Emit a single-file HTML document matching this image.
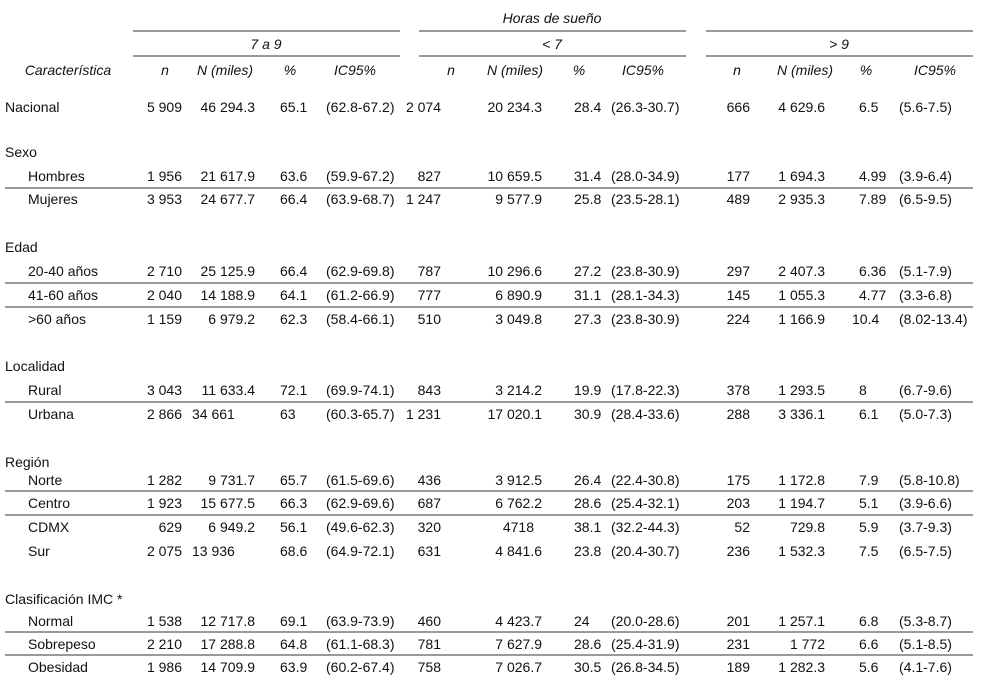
<!DOCTYPE html>
<html><head><meta charset="utf-8">
<style>
html,body{margin:0;padding:0;background:#fff;}
body{width:989px;height:688px;position:relative;overflow:hidden;font-family:"Liberation Sans",sans-serif;font-size:14px;color:#111;}
.row{position:absolute;left:0;width:989px;height:16px;line-height:16px;}
.row span{position:absolute;top:0;white-space:nowrap;}
.g{left:5px}.s{left:28px}
.c1{left:82px;width:100px;text-align:right}
.c2{left:155px;width:100px;text-align:right}
.c3{left:280px}.c4{left:326px}
.c5{left:341px;width:100px;text-align:right}
.c6{left:442px;width:100px;text-align:right}
.c7{left:574px}.c8{left:611px}
.c9{left:650px;width:100px;text-align:right}
.c10{left:725px;width:100px;text-align:right}
.c11{left:859px}.c12{left:899px}
.i{font-style:italic}
.h span{transform:translateX(-50%)}
.ln{position:absolute;height:2px;background:#9a9a9a;}
</style></head><body>
<div class="row h i" style="top:10px"><span style="left:552px">Horas de sueño</span></div>
<div class="ln" style="top:30px;left:133px;width:267px"></div>
<div class="ln" style="top:30px;left:419px;width:267px"></div>
<div class="ln" style="top:30px;left:706px;width:267px"></div>
<div class="row h i" style="top:36px"><span style="left:266px">7 a 9</span><span style="left:552px">&lt; 7</span><span style="left:839px">&gt; 9</span></div>
<div class="ln" style="top:55px;left:133px;width:267px"></div>
<div class="ln" style="top:55px;left:419px;width:267px"></div>
<div class="ln" style="top:55px;left:706px;width:267px"></div>
<div class="row h i" style="top:62px"><span style="left:68px">Característica</span><span style="left:165px">n</span><span style="left:225px">N (miles)</span><span style="left:290px">%</span><span style="left:355px">IC95%</span><span style="left:451px">n</span><span style="left:515px">N (miles)</span><span style="left:579px">%</span><span style="left:643px">IC95%</span><span style="left:737px">n</span><span style="left:805px">N (miles)</span><span style="left:866px">%</span><span style="left:935px">IC95%</span></div>

<div class="row" style="top:99px"><span class="g">Nacional</span><span class="c1">5 909</span><span class="c2">46 294.3</span><span class="c3">65.1</span><span class="c4">(62.8-67.2)</span><span class="c5">2 074</span><span class="c6">20 234.3</span><span class="c7">28.4</span><span class="c8">(26.3-30.7)</span><span class="c9">666</span><span class="c10">4 629.6</span><span class="c11">6.5</span><span class="c12">(5.6-7.5)</span></div>

<div class="row" style="top:144px"><span class="g">Sexo</span></div>
<div class="row" style="top:168px"><span class="s">Hombres</span><span class="c1">1 956</span><span class="c2">21 617.9</span><span class="c3">63.6</span><span class="c4">(59.9-67.2)</span><span class="c5">827</span><span class="c6">10 659.5</span><span class="c7">31.4</span><span class="c8">(28.0-34.9)</span><span class="c9">177</span><span class="c10">1 694.3</span><span class="c11">4.99</span><span class="c12">(3.9-6.4)</span></div>
<div class="ln" style="top:187px;left:5px;width:968px"></div>
<div class="row" style="top:191px"><span class="s">Mujeres</span><span class="c1">3 953</span><span class="c2">24 677.7</span><span class="c3">66.4</span><span class="c4">(63.9-68.7)</span><span class="c5">1 247</span><span class="c6">9 577.9</span><span class="c7">25.8</span><span class="c8">(23.5-28.1)</span><span class="c9">489</span><span class="c10">2 935.3</span><span class="c11">7.89</span><span class="c12">(6.5-9.5)</span></div>

<div class="row" style="top:239px"><span class="g">Edad</span></div>
<div class="row" style="top:263px"><span class="s">20-40 años</span><span class="c1">2 710</span><span class="c2">25 125.9</span><span class="c3">66.4</span><span class="c4">(62.9-69.8)</span><span class="c5">787</span><span class="c6">10 296.6</span><span class="c7">27.2</span><span class="c8">(23.8-30.9)</span><span class="c9">297</span><span class="c10">2 407.3</span><span class="c11">6.36</span><span class="c12">(5.1-7.9)</span></div>
<div class="ln" style="top:282px;left:5px;width:968px"></div>
<div class="row" style="top:287px"><span class="s">41-60 años</span><span class="c1">2 040</span><span class="c2">14 188.9</span><span class="c3">64.1</span><span class="c4">(61.2-66.9)</span><span class="c5">777</span><span class="c6">6 890.9</span><span class="c7">31.1</span><span class="c8">(28.1-34.3)</span><span class="c9">145</span><span class="c10">1 055.3</span><span class="c11">4.77</span><span class="c12">(3.3-6.8)</span></div>
<div class="ln" style="top:306px;left:5px;width:968px"></div>
<div class="row" style="top:311px"><span class="s">&gt;60 años</span><span class="c1">1 159</span><span class="c2">6 979.2</span><span class="c3">62.3</span><span class="c4">(58.4-66.1)</span><span class="c5">510</span><span class="c6">3 049.8</span><span class="c7">27.3</span><span class="c8">(23.8-30.9)</span><span class="c9">224</span><span class="c10">1 166.9</span><span class="c11" style="left:852px">10.4</span><span class="c12" style="left:899px">(8.02-13.4)</span></div>

<div class="row" style="top:358px"><span class="g">Localidad</span></div>
<div class="row" style="top:382px"><span class="s">Rural</span><span class="c1">3 043</span><span class="c2">11 633.4</span><span class="c3">72.1</span><span class="c4">(69.9-74.1)</span><span class="c5">843</span><span class="c6">3 214.2</span><span class="c7">19.9</span><span class="c8">(17.8-22.3)</span><span class="c9">378</span><span class="c10">1 293.5</span><span class="c11">8</span><span class="c12">(6.7-9.6)</span></div>
<div class="ln" style="top:401px;left:5px;width:968px"></div>
<div class="row" style="top:406px"><span class="s">Urbana</span><span class="c1">2 866</span><span style="left:192px">34 661</span><span class="c3">63</span><span class="c4">(60.3-65.7)</span><span class="c5">1 231</span><span class="c6">17 020.1</span><span class="c7">30.9</span><span class="c8">(28.4-33.6)</span><span class="c9">288</span><span class="c10">3 336.1</span><span class="c11">6.1</span><span class="c12">(5.0-7.3)</span></div>

<div class="row" style="top:454px"><span class="g">Región</span></div>
<div class="row" style="top:472px"><span class="s">Norte</span><span class="c1">1 282</span><span class="c2">9 731.7</span><span class="c3">65.7</span><span class="c4">(61.5-69.6)</span><span class="c5">436</span><span class="c6">3 912.5</span><span class="c7">26.4</span><span class="c8">(22.4-30.8)</span><span class="c9">175</span><span class="c10">1 172.8</span><span class="c11">7.9</span><span class="c12">(5.8-10.8)</span></div>
<div class="ln" style="top:490px;left:5px;width:968px"></div>
<div class="row" style="top:495px"><span class="s">Centro</span><span class="c1">1 923</span><span class="c2">15 677.5</span><span class="c3">66.3</span><span class="c4">(62.9-69.6)</span><span class="c5">687</span><span class="c6">6 762.2</span><span class="c7">28.6</span><span class="c8">(25.4-32.1)</span><span class="c9">203</span><span class="c10">1 194.7</span><span class="c11">5.1</span><span class="c12">(3.9-6.6)</span></div>
<div class="ln" style="top:514px;left:5px;width:968px"></div>
<div class="row" style="top:519px"><span class="s">CDMX</span><span class="c1">629</span><span class="c2">6 949.2</span><span class="c3">56.1</span><span class="c4">(49.6-62.3)</span><span class="c5">320</span><span class="c6" style="left:434px">4718</span><span class="c7">38.1</span><span class="c8">(32.2-44.3)</span><span class="c9">52</span><span class="c10">729.8</span><span class="c11">5.9</span><span class="c12">(3.7-9.3)</span></div>
<div class="row" style="top:543px"><span class="s">Sur</span><span class="c1">2 075</span><span style="left:192px">13 936</span><span class="c3">68.6</span><span class="c4">(64.9-72.1)</span><span class="c5">631</span><span class="c6">4 841.6</span><span class="c7">23.8</span><span class="c8">(20.4-30.7)</span><span class="c9">236</span><span class="c10">1 532.3</span><span class="c11">7.5</span><span class="c12">(6.5-7.5)</span></div>

<div class="row" style="top:591px"><span class="g">Clasificación IMC *</span></div>
<div class="row" style="top:613px"><span class="s">Normal</span><span class="c1">1 538</span><span class="c2">12 717.8</span><span class="c3">69.1</span><span class="c4">(63.9-73.9)</span><span class="c5">460</span><span class="c6">4 423.7</span><span class="c7">24</span><span class="c8">(20.0-28.6)</span><span class="c9">201</span><span class="c10">1 257.1</span><span class="c11">6.8</span><span class="c12">(5.3-8.7)</span></div>
<div class="ln" style="top:631px;left:5px;width:968px"></div>
<div class="row" style="top:636px"><span class="s">Sobrepeso</span><span class="c1">2 210</span><span class="c2">17 288.8</span><span class="c3">64.8</span><span class="c4">(61.1-68.3)</span><span class="c5">781</span><span class="c6">7 627.9</span><span class="c7">28.6</span><span class="c8">(25.4-31.9)</span><span class="c9">231</span><span class="c10">1 772</span><span class="c11">6.6</span><span class="c12">(5.1-8.5)</span></div>
<div class="ln" style="top:654px;left:5px;width:968px"></div>
<div class="row" style="top:659px"><span class="s">Obesidad</span><span class="c1">1 986</span><span class="c2">14 709.9</span><span class="c3">63.9</span><span class="c4">(60.2-67.4)</span><span class="c5">758</span><span class="c6">7 026.7</span><span class="c7">30.5</span><span class="c8">(26.8-34.5)</span><span class="c9">189</span><span class="c10">1 282.3</span><span class="c11">5.6</span><span class="c12">(4.1-7.6)</span></div>
</body></html>
